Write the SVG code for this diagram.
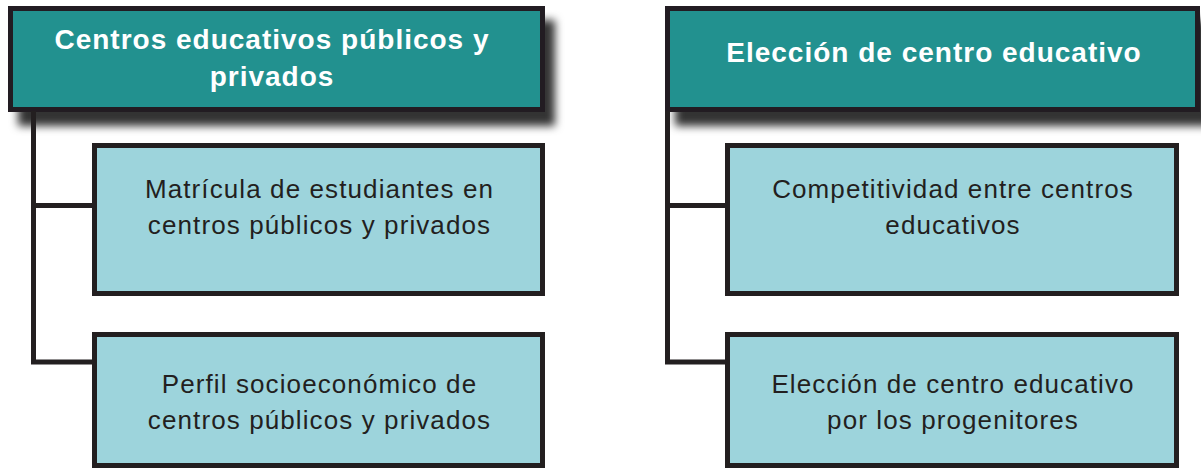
<svg xmlns="http://www.w3.org/2000/svg" width="1201" height="468" viewBox="0 0 1201 468">
  <defs>
    <filter id="shadow" x="-10%" y="-30%" width="130%" height="180%">
      <feDropShadow dx="10" dy="14" stdDeviation="4.5" flood-color="#000" flood-opacity="0.8"/>
    </filter>
  </defs>
  <style>
    .head { fill: #20918f; stroke: #231f20; stroke-width: 5; }
    .child { fill: #9dd4dc; stroke: #231f20; stroke-width: 5; }
    .conn { fill: none; stroke: #231f20; stroke-width: 5; }
    .ht { font-family: "Liberation Sans", Arial, sans-serif; font-weight: bold; font-size: 28px; letter-spacing: 1px; fill: #ffffff; text-anchor: middle; }
    .ct { font-family: "Liberation Sans", Arial, sans-serif; font-size: 26px; letter-spacing: 1.1px; fill: #231f20; text-anchor: middle; }
  </style>
  <rect width="1201" height="468" fill="#ffffff"/>

  <g id="head-left">
    <rect class="head" x="10.5" y="8.5" width="532" height="101" filter="url(#shadow)"/>
    <text class="ht" x="272" y="49">Centros educativos públicos y</text>
    <text class="ht" x="272" y="86">privados</text>
  </g>

  <g id="head-right">
    <rect class="head" x="667.5" y="8.5" width="530" height="101" filter="url(#shadow)"/>
    <text class="ht" x="934" y="62">Elección de centro educativo</text>
  </g>

  <g id="connectors">
    <path class="conn" d="M33.5,111 V364.5 M31,205.5 H92 M31,362 H92"/>
    <path class="conn" d="M667.5,111 V364.5 M665,205.5 H725 M665,362 H725"/>
  </g>

  <g id="child-left-1">
    <rect class="child" x="94.5" y="145.5" width="448" height="148"/>
    <text class="ct" x="319.5" y="198">Matrícula de estudiantes en</text>
    <text class="ct" x="319.5" y="234">centros públicos y privados</text>
  </g>

  <g id="child-left-2">
    <rect class="child" x="94.5" y="334.5" width="448" height="131"/>
    <text class="ct" x="319.5" y="393">Perfil socioeconómico de</text>
    <text class="ct" x="319.5" y="429">centros públicos y privados</text>
  </g>

  <g id="child-right-1">
    <rect class="child" x="727.5" y="145.5" width="449" height="148"/>
    <text class="ct" x="953" y="198">Competitividad entre centros</text>
    <text class="ct" x="953" y="234">educativos</text>
  </g>

  <g id="child-right-2">
    <rect class="child" x="727.5" y="334.5" width="449" height="131"/>
    <text class="ct" x="953" y="393">Elección de centro educativo</text>
    <text class="ct" x="953" y="429">por los progenitores</text>
  </g>
</svg>
